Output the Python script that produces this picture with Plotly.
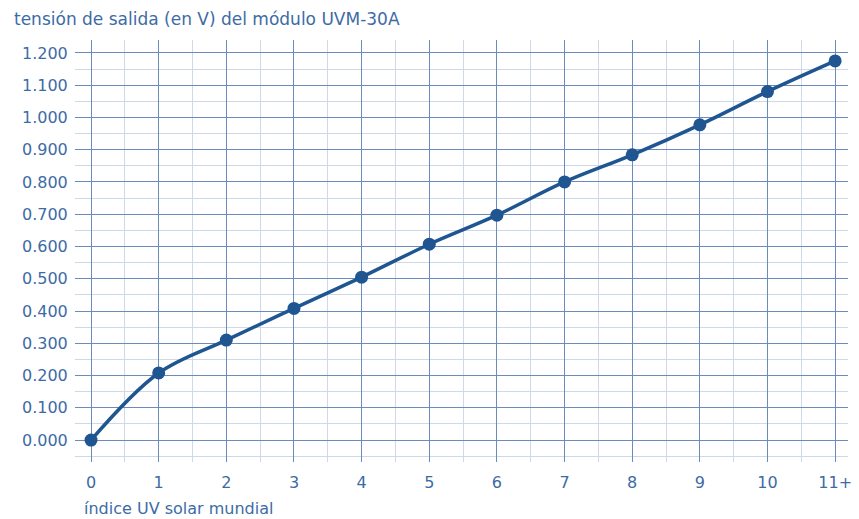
import plotly.graph_objects as go

uv_index = [0, 1, 2, 3, 4, 5, 6, 7, 8, 9, 10, 11]
voltage = [0.0, 0.208, 0.31, 0.408, 0.505, 0.607, 0.697, 0.80, 0.884, 0.977, 1.080, 1.175]
x_tick_vals = [0, 1, 2, 3, 4, 5, 6, 7, 8, 9, 10, 11]
x_tick_text = ["0", "1", "2", "3", "4", "5", "6", "7", "8", "9", "10", "11+"]
title_text = "tensión de salida (en V) del módulo UVM-30A"
x_title_text = "índice UV solar mundial"

TEXT = "#3d6ba6"
LINE = "#1f5591"
MAJOR = "#6a8cbd"
MINOR = "#cdd8e8"
FONT = "DejaVu Sans"

fig = go.Figure()
fig.add_trace(go.Scatter(
    x=uv_index, y=voltage, mode="lines+markers",
    line=dict(color=LINE, width=3.5, shape="spline", smoothing=1.0),
    marker=dict(color=LINE, size=13),
    showlegend=False, hoverinfo="skip",
))

# page body has an 8px default margin, so the figure is offset by 8px
fig.update_layout(
    width=851, height=511,
    margin=dict(l=67, r=11, t=32, b=57),
    paper_bgcolor="white", plot_bgcolor="white",
    font=dict(family=FONT, color=TEXT, size=16),
    xaxis=dict(
        range=[-0.237, 11.19], tickvals=x_tick_vals, ticktext=x_tick_text,
        showgrid=True, gridcolor=MAJOR, gridwidth=1, zeroline=False,
        ticks="outside", ticklen=6, tickcolor="rgba(0,0,0,0)",
        tickfont=dict(family=FONT, color=TEXT, size=16),
        minor=dict(dtick=0.5, tick0=0, showgrid=True, gridcolor=MINOR, gridwidth=1),
        showline=False, fixedrange=True, automargin=False,
    ),
    yaxis=dict(
        range=[-0.068, 1.240], dtick=0.1, tick0=0, tickformat=".3f",
        showgrid=True, gridcolor=MAJOR, gridwidth=1, zeroline=False,
        ticks="outside", ticklen=3, tickcolor="rgba(0,0,0,0)",
        tickfont=dict(family=FONT, color=TEXT, size=16),
        minor=dict(dtick=0.05, tick0=0, showgrid=True, gridcolor=MINOR, gridwidth=1),
        showline=False, fixedrange=True, automargin=False,
    ),
    annotations=[
        dict(text=title_text, xref="paper", yref="paper", x=-0.08, y=1.0,
             xanchor="left", yanchor="top", yshift=32, showarrow=False,
             borderpad=0, font=dict(family=FONT, color=TEXT, size=17)),
        dict(text=x_title_text, xref="paper", yref="paper", x=0.01, y=0,
             xanchor="left", yanchor="bottom", yshift=-57, showarrow=False,
             borderpad=0, font=dict(family=FONT, color=TEXT, size=16)),
    ],
)

fig.write_html("out.html")
